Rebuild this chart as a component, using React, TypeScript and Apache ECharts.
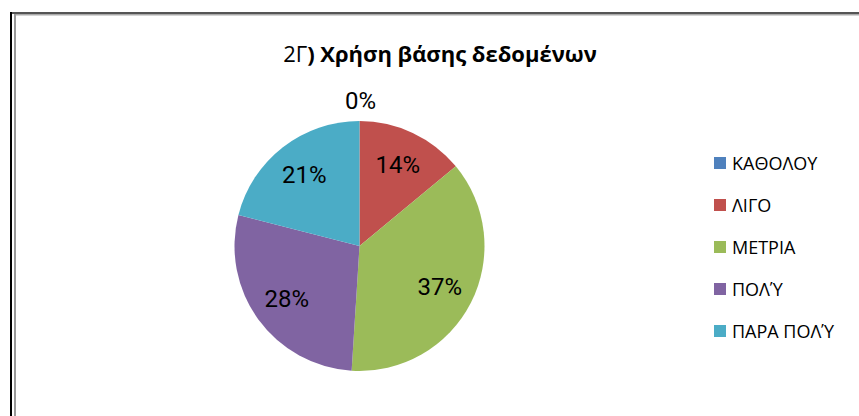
import React, { useEffect, useRef } from "react";
import * as echarts from "echarts";

const categories = ["ΚΑΘΟΛΟΥ", "ΛΙΓΟ", "ΜΕΤΡΙΑ", "ΠΟΛΎ", "ΠΑΡΑ ΠΟΛΎ"];
const percentages = [0, 14, 37, 28, 21];
const colors = ["#4F81BD", "#C0504D", "#9BBB59", "#8064A2", "#4BACC6"];
const titleNumber = "2Γ";
const titleText = ") Χρήση βάσης δεδομένων";

export default function App() {
  const ref = useRef<HTMLDivElement>(null);
  useEffect(() => {
    if (!ref.current) return;
    const chart = echarts.init(ref.current, null, { renderer: "svg" });
    const pieData = categories.map((name, i) => ({
      name,
      value: percentages[i],
      itemStyle: { color: colors[i] },
    }));
    const labelData = categories.map((name, i) => {
      const item: any = { name, value: percentages[i] };
      if (percentages[i] === 0) {
        item.label = { position: "outside", distanceToLabelLine: 5 };
        item.labelLine = { show: false, length: 20.5, length2: -21.5 };
      }
      return item;
    });
    chart.setOption({
      animation: false,
      backgroundColor: "#ffffff",
      color: colors,
      title: {
        text: `{a|${titleNumber}}{b|${titleText}}`,
        left: 435,
        top: 35,
        textAlign: "center",
        textStyle: {
          rich: {
            a: { fontFamily: "Open Sans", fontSize: 22, fontWeight: "normal", color: "#000", lineHeight: 26 },
            b: { fontFamily: "Open Sans", fontSize: 22, fontWeight: "bold", color: "#000", lineHeight: 26 },
          },
        },
      },
      legend: {
        orient: "vertical",
        left: 709,
        top: 148,
        itemWidth: 12,
        itemHeight: 12,
        itemGap: 22,
        icon: "rect",
        data: categories,
        textStyle: {
          fontFamily: "Open Sans",
          fontSize: 18,
          color: "#000",
          lineHeight: 20,
          padding: [0, 0, 0, 1],
        },
      },
      graphic: [
        { type: "rect", shape: { x: 10, y: 12, width: 849, height: 2 }, style: { fill: "#555" }, silent: true },
        { type: "rect", shape: { x: 14, y: 14, width: 845, height: 1.5 }, style: { fill: "#aaa" }, silent: true },
        { type: "rect", shape: { x: 10, y: 12, width: 2, height: 404 }, style: { fill: "#000" }, silent: true },
        { type: "rect", shape: { x: 14, y: 14, width: 2, height: 402 }, style: { fill: "#999" }, silent: true },
      ],
      series: [
        {
          type: "pie",
          center: [359.5, 246],
          radius: [0, 125],
          startAngle: 90,
          clockwise: true,
          label: { show: false },
          labelLine: { show: false },
          silent: true,
          data: pieData,
        },
        {
          type: "pie",
          center: [359.5, 246],
          radius: [49, 125],
          startAngle: 90,
          clockwise: true,
          avoidLabelOverlap: false,
          silent: true,
          legendHoverLink: false,
          itemStyle: { color: "rgba(0,0,0,0)" },
          label: {
            show: true,
            position: "inside",
            formatter: "{c}%",
            fontFamily: "Roboto",
            fontSize: 24,
            color: "#000",
          },
          labelLine: { show: false },
          data: labelData,
        },
      ],
    });
    return () => chart.dispose();
  }, []);
  return (
    <div style={{ position: "absolute", left: 0, top: 0, width: 859, height: 416, background: "#fff" }}>
      <div ref={ref} style={{ width: 859, height: 416 }} />
    </div>
  );
}
